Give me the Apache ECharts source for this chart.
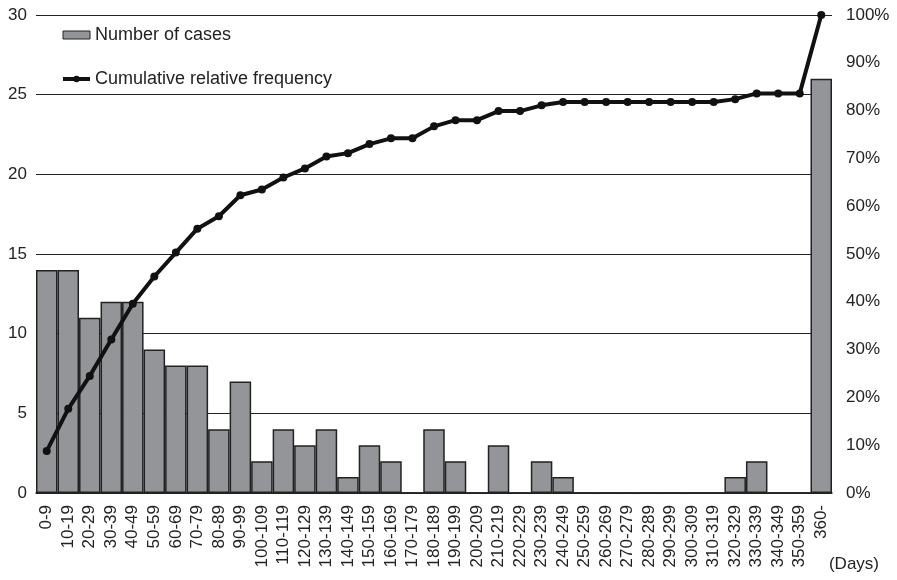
<!DOCTYPE html>
<html>
<head>
<meta charset="utf-8">
<script src="https://cdn.jsdelivr.net/npm/echarts@6/dist/echarts.min.js"></script>
<style>
  html, body { margin: 0; padding: 0; background: #fff; }
  #main { width: 897px; height: 580px; }
</style>
</head>
<body>
<div id="main"></div>
<script>
// day ranges
const categories = ['0-9', '10-19', '20-29', '30-39', '40-49', '50-59', '60-69', '70-79', '80-89', '90-99',
  '100-109', '110-119', '120-129', '130-139', '140-149', '150-159', '160-169', '170-179', '180-189', '190-199',
  '200-209', '210-219', '220-229', '230-239', '240-249', '250-259', '260-269', '270-279', '280-289', '290-299',
  '300-309', '310-319', '320-329', '330-339', '340-349', '350-359', '360-']

const cases = [14, 14, 11, 12, 12, 9, 8, 8, 4, 7,
  2, 4, 3, 4, 1, 3, 2, 0, 4, 2,
  0, 3, 0, 2, 1, 0, 0, 0, 0, 0,
  0, 0, 1, 2, 0, 0, 26]

// cumulative relative frequency (%)
const cumulative = [8.8, 17.6, 24.5, 32.1, 39.6, 45.3, 50.3, 55.3, 57.9, 62.3,
  63.5, 66.0, 67.9, 70.4, 71.1, 73.0, 74.2, 74.2, 76.7, 78.0,
  78.0, 79.9, 79.9, 81.1, 81.8, 81.8, 81.8, 81.8, 81.8, 81.8,
  81.8, 81.8, 82.4, 83.6, 83.6, 83.6, 100]

const leftTicks = { min: 0, max: 30, interval: 5 }
const rightTicks = { min: 0, max: 100, interval: 10 }

const chart = echarts.init(document.getElementById('main'))
const font = 'Liberation Sans, Arial, sans-serif'

const option = {
  animation: false,
  textStyle: { fontFamily: font },
  grid: {
    left: 36,
    right: 65,
    top: 15,
    bottom: 87
  },
  legend: {
    orient: 'vertical',
    left: 56,
    top: 21,
    itemGap: 26,
    itemWidth: 27,
    itemHeight: 8,
    textStyle: { fontSize: 18, color: '#222', fontFamily: font },
    data: [
      { name: 'Number of cases', icon: 'rect', itemStyle: { borderWidth: 1 } },
      { name: 'Cumulative relative frequency', lineStyle: { width: 4 } }
    ]
  },
  xAxis: [{
    type: 'category',
    data: categories,
    boundaryGap: true,
    axisTick: { show: false },
    axisLine: { lineStyle: { color: '#222', width: 1.5 } },
    axisLabel: {
      interval: 0,
      rotate: 90,
      margin: 12,
      fontSize: 17,
      color: '#222',
      fontFamily: font
    }
  }],
  yAxis: [{
    type: 'value',
    min: leftTicks.min,
    max: leftTicks.max,
    interval: leftTicks.interval,
    axisLine: { show: false },
    axisTick: { show: false },
    splitLine: { lineStyle: { color: '#222', width: 1 } },
    axisLabel: { fontSize: 17, color: '#222', margin: 9, fontFamily: font }
  }, {
    type: 'value',
    min: rightTicks.min,
    max: rightTicks.max,
    interval: rightTicks.interval,
    axisLine: { show: false },
    axisTick: { show: false },
    splitLine: { show: false },
    axisLabel: { fontSize: 17, color: '#222', margin: 14, formatter: '{value}%', fontFamily: font }
  }],
  graphic: [{
    type: 'text',
    right: 18,
    top: 556,
    style: { text: '(Days)', fontSize: 17, fill: '#222', fontFamily: font }
  }],
  series: [{
    name: 'Number of cases',
    type: 'bar',
    data: cases,
    barCategoryGap: 0,
    itemStyle: { color: '#939598', borderColor: '#222', borderWidth: 1.5 },
    z: 2
  }, {
    name: 'Cumulative relative frequency',
    type: 'line',
    yAxisIndex: 1,
    data: cumulative,
    symbol: 'circle',
    symbolSize: 8,
    lineStyle: { color: '#111', width: 4 },
    itemStyle: { color: '#111' },
    z: 3
  }]
}

chart.setOption(option)
</script>
</body>
</html>
